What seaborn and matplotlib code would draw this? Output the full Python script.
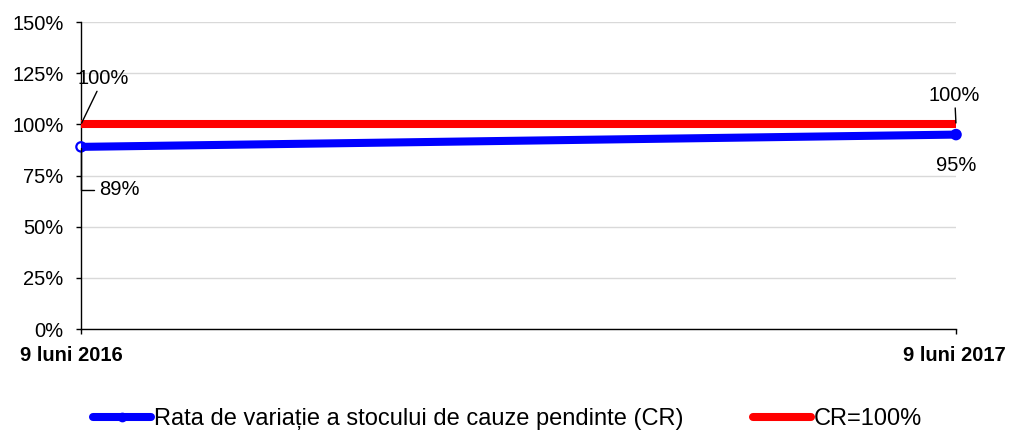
import numpy as np
import pandas as pd
import matplotlib
matplotlib.use("Agg")
import matplotlib.pyplot as plt
import matplotlib.transforms as mtransforms
from matplotlib.ticker import PercentFormatter
from matplotlib.lines import Line2D
import seaborn as sns

# Data
periods = ["9 luni 2016", "9 luni 2017"]
clearance_rate = [89, 95]          # Rata de variație a stocului de cauze pendinte (CR), %
reference_rate = [100, 100]        # CR = 100%
y_ticks = [0, 25, 50, 75, 100, 125, 150]
series_cr = "Rata de variație a stocului de cauze pendinte (CR)"
series_ref = "CR=100%"

sns.set_theme(style="white")
plt.rcParams["font.family"] = ["Liberation Sans", "DejaVu Sans"]
plt.rcParams["text.color"] = "black"

BLUE = "#0000ff"
RED = "#ff0000"
FS = 14.5
FS_LEG = 17.0

fig = plt.figure(figsize=(10.11, 4.32), dpi=100)
ax = fig.add_axes([0.0801, 0.2384, 0.8655, 0.7106])

x = np.arange(len(periods))
df_cr = pd.DataFrame({"x": x, "v": clearance_rate, "pt": periods})
df_ref = pd.DataFrame({"x": x, "v": reference_rate})

# end-point markers under the blue line (first hollow, last filled)
sns.scatterplot(data=df_cr, x="x", y="v", hue="pt", ax=ax, s=45, marker="o",
                palette=["white", BLUE], edgecolor=BLUE, linewidth=1.6,
                zorder=3, clip_on=False, legend=False)
sns.lineplot(data=df_cr, x="x", y="v", ax=ax, color=BLUE, linewidth=5.8,
             zorder=4, legend=False, solid_capstyle="butt")
sns.lineplot(data=df_ref, x="x", y="v", ax=ax, color=RED, linewidth=5.8,
             zorder=5, legend=False, solid_capstyle="butt")

ax.set_xlim(0, 1)
ax.set_ylim(0, 150)
ax.set_yticks(y_ticks)
ax.yaxis.set_major_formatter(PercentFormatter(decimals=0))
ax.set_xticks(x)
ax.set_xticklabels(periods, fontsize=FS, fontweight="bold", color="black")
ax.set_xlabel("")
ax.set_ylabel("")
ax.tick_params(axis="y", labelsize=FS, labelcolor="black", length=3.6,
               width=1, color="black", direction="out", left=True, pad=9)
ax.tick_params(axis="x", length=3.6, width=1, color="black",
               direction="out", bottom=True, pad=8.5)

# shift the period labels slightly left
off = mtransforms.ScaledTranslation(-10 / 100, 0, fig.dpi_scale_trans)
lbls = ax.get_xticklabels()
lbls[0].set_transform(lbls[0].get_transform() + off)
off_r = mtransforms.ScaledTranslation(-2 / 100, 0, fig.dpi_scale_trans)
lbls[1].set_transform(lbls[1].get_transform() + off_r)

ax.grid(axis="y", color="#d9d9d9", linewidth=1)
ax.grid(axis="x", visible=False)
for side in ("top", "right"):
    ax.spines[side].set_visible(False)
for side in ("left", "bottom"):
    ax.spines[side].set_color("black")
    ax.spines[side].set_linewidth(1)
ax.set_axisbelow(True)

# Value labels
arrow = dict(arrowstyle="-", color="black", lw=1, shrinkA=0, shrinkB=1)
ax.annotate(f"{reference_rate[0]}%", xy=(x[0], reference_rate[0]),
            xytext=(16, 33), textcoords="offset points", ha="center",
            va="center", fontsize=FS, color="black", arrowprops=arrow,
            annotation_clip=False, zorder=6)
ax.annotate(f"{clearance_rate[0]}%", xy=(x[0], clearance_rate[0]),
            xytext=(28, -31), textcoords="offset points", ha="center",
            va="center", fontsize=FS, color="black",
            annotation_clip=False, zorder=6,
            arrowprops=dict(arrowstyle="-", color="black", lw=1, shrinkA=2,
                            shrinkB=1,
                            connectionstyle="angle,angleA=0,angleB=90,rad=0"))
ax.annotate(f"{reference_rate[1]}%", xy=(x[1], reference_rate[1]),
            xytext=(-1, 21), textcoords="offset points", ha="center",
            va="center", fontsize=FS, color="black", arrowprops=arrow,
            annotation_clip=False, zorder=6)
ax.annotate(f"{clearance_rate[1]}%", xy=(x[1], clearance_rate[1]),
            xytext=(0, -22), textcoords="offset points", ha="center",
            va="center", fontsize=FS, color="black",
            annotation_clip=False, zorder=6)

# Legend
handles = [
    Line2D([], [], color=BLUE, linewidth=5.8, marker="o", markersize=6,
           markerfacecolor=BLUE, markeredgecolor=BLUE, solid_capstyle="round"),
    Line2D([], [], color=RED, linewidth=5.8, solid_capstyle="round"),
]
leg = fig.legend(handles, [series_cr, series_ref], loc="center left",
                 bbox_to_anchor=(0.092, 0.03), ncol=2, frameon=False,
                 fontsize=FS_LEG, handlelength=2.45, handletextpad=0.12,
                 columnspacing=2.95, borderpad=0, borderaxespad=0)
for t in leg.get_texts():
    t.set_color("black")

fig.savefig("out.png", dpi=100)
